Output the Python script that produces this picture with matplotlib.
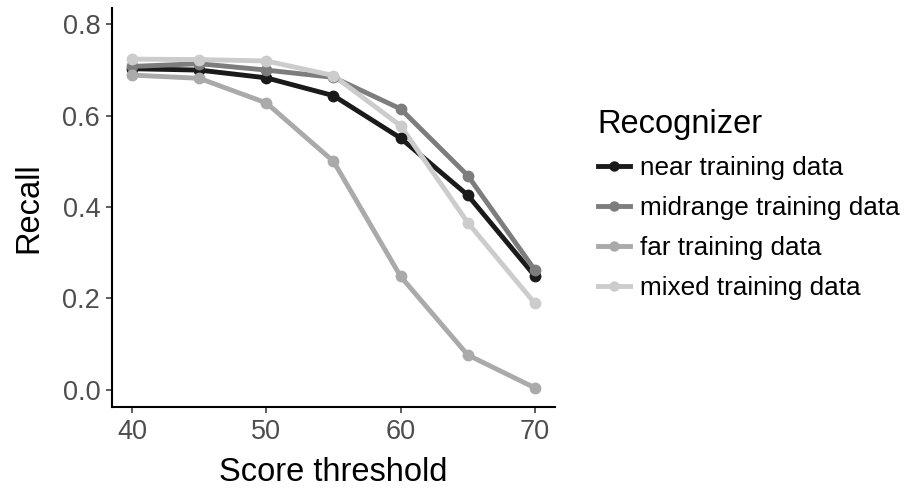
import matplotlib
matplotlib.use("Agg")
import matplotlib.pyplot as plt
from matplotlib.lines import Line2D

thresholds = [40, 45, 50, 55, 60, 65, 70]
near = [0.703, 0.700, 0.683, 0.644, 0.551, 0.426, 0.249]
midrange = [0.708, 0.714, 0.700, 0.684, 0.615, 0.469, 0.262]
far = [0.689, 0.682, 0.628, 0.500, 0.248, 0.076, 0.004]
mixed = [0.724, 0.723, 0.720, 0.688, 0.578, 0.366, 0.189]

series_names = ["near training data", "midrange training data",
                "far training data", "mixed training data"]
series_values = [near, midrange, far, mixed]
colors = ["#1A1A1A", "#7D7D7D", "#AAAAAA", "#CCCCCC"]

plt.rcParams['font.family'] = ['Liberation Sans', 'DejaVu Sans']

fig = plt.figure(figsize=(9.06, 4.90), dpi=100)
ax = fig.add_axes([112/906, 1-407/490, (555-112)/906, (407-8)/490])

for vals, c in zip(series_values, colors):
    ax.plot(thresholds, vals, color=c, lw=3.5, solid_capstyle='butt', zorder=2)
for vals, c in zip(series_values, colors):
    ax.plot(thresholds, vals, 'o', color=c, ms=8.5, mec='none', zorder=3)

ax.set_xlim(38.5, 71.5)
ax.set_ylim(-0.038, 0.836)
ax.set_xticks([40, 50, 60, 70])
ax.set_yticks([0.0, 0.2, 0.4, 0.6, 0.8])
ax.set_yticklabels(["0.0", "0.2", "0.4", "0.6", "0.8"])
for s in ['top', 'right']:
    ax.spines[s].set_visible(False)
for s in ['left', 'bottom']:
    ax.spines[s].set_linewidth(1.5)
    ax.spines[s].set_color('black')
ax.tick_params(axis='both', length=4.5, width=1.1, color='#333333',
               labelsize=19.5, labelcolor='#4D4D4D', pad=4)
ax.set_xlabel("Score threshold", fontsize=23.5, color='black', labelpad=8.5)
ax.set_ylabel("Recall", fontsize=23.5, color='black', labelpad=13)

handles = [Line2D([0], [0], color=c, lw=3.5, marker='o', ms=7.5, mec='none')
           for c in colors]
leg = fig.legend(handles, series_names, title="Recognizer",
                 loc='upper left', bbox_to_anchor=(588.5/906, 1-99.5/490),
                 frameon=False, fontsize=18.8, title_fontsize=23.5,
                 borderaxespad=0, borderpad=0.35,
                 handlelength=1.25, handletextpad=0.38, labelspacing=0.62,
                 alignment='left')
fig.savefig("out.png", dpi=100)
